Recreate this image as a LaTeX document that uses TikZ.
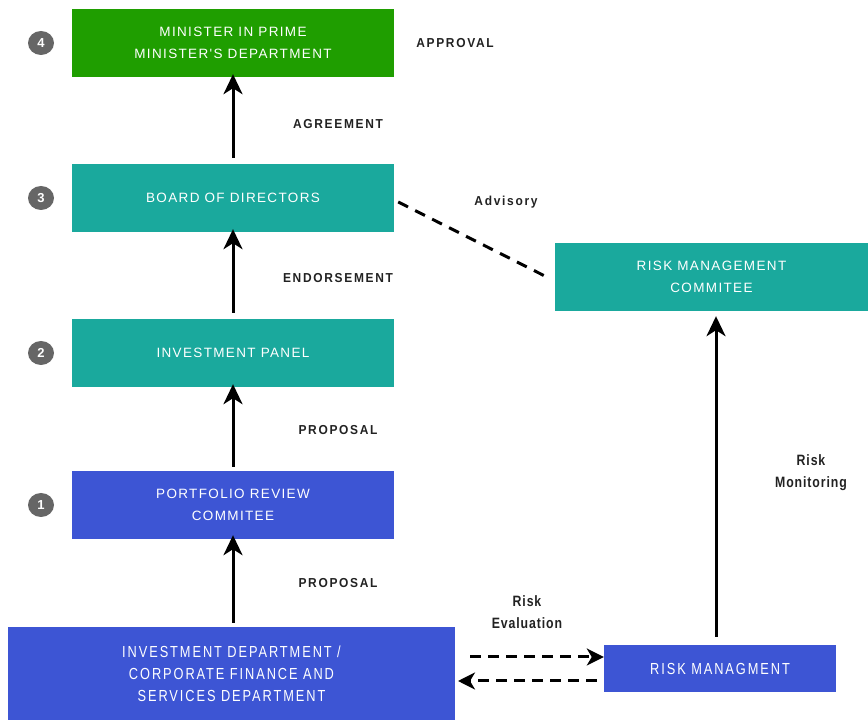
\documentclass[tikz,border=0pt]{standalone}
\usepackage{fontspec}
\setmainfont{Liberation Sans}
\newfontfamily\boxfont[LetterSpace=10]{Liberation Sans}
\newfontfamily\lblfont[LetterSpace=13,FakeStretch=0.92]{Liberation Sans Bold}
\newfontfamily\condfont[FakeStretch=0.8,LetterSpace=12]{Liberation Sans}
\newfontfamily\condbold[FakeStretch=0.82,LetterSpace=6]{Liberation Sans Bold}
\usetikzlibrary{arrows.meta}
\definecolor{cgreen}{HTML}{1F9E00}
\definecolor{cteal}{HTML}{1AA99D}
\definecolor{cblue}{HTML}{3D55D4}
\definecolor{cgray}{HTML}{666666}
\definecolor{ctext}{HTML}{222222}
\tikzset{
  x=1pt,y=1pt,
  boxnode/.style={draw=none,minimum width=322pt,minimum height=68pt,inner sep=0pt,align=center,text=white,font=\boxfont\fontsize{13.5}{22}\selectfont},
  numcirc/.style={ellipse,fill=cgray,minimum width=26pt,minimum height=24pt,inner sep=0pt,text=white,font=\bfseries\fontsize{13}{13}\selectfont},
  lbl/.style={text=ctext,font=\lblfont\fontsize{13}{15}\selectfont,align=center},
  clbl/.style={text=ctext,font=\condbold\fontsize{15}{22}\selectfont,align=center},
  flow/.style={line width=3pt,-{Stealth[length=20pt,width=19pt,inset=6pt]}},
  dflow/.style={line width=3pt,dash pattern=on 11pt off 7pt,-{Stealth[length=17pt,width=17pt,inset=5pt]}},
}
\usetikzlibrary{shapes.geometric}
\begin{document}
\begin{tikzpicture}
\useasboundingbox (0,0) rectangle (868,720);
\fill[white] (0,0) rectangle (868,720);
% boxes
\node[boxnode,fill=cgreen] (b4) at (233,677) {MINISTER IN PRIME\\MINISTER'S DEPARTMENT};
\node[boxnode,fill=cteal] (b3) at (233,522) {BOARD OF DIRECTORS};
\node[boxnode,fill=cteal] (b2) at (233,367) {INVESTMENT PANEL};
\node[boxnode,fill=cblue] (b1) at (233,215) {PORTFOLIO REVIEW\\COMMITEE};
\node[boxnode,fill=cblue,minimum width=447pt,minimum height=93pt,font=\condfont\fontsize{16}{22}\selectfont] (b0) at (231.5,46.5) {INVESTMENT DEPARTMENT /\\CORPORATE FINANCE AND\\SERVICES DEPARTMENT};
\node[boxnode,fill=cblue,minimum width=232pt,minimum height=47pt,font=\condfont\fontsize{16}{22}\selectfont] (rm) at (720,51.5) {RISK MANAGMENT};
\node[boxnode,fill=cteal,minimum width=313pt] (rmc) at (711.5,443) {RISK MANAGEMENT\\COMMITEE};
% numbers
\node[numcirc] (n4) at (41,677) {4};
\node[numcirc] (n3) at (41,522) {3};
\node[numcirc] (n2) at (41,367) {2};
\node[numcirc] (n1) at (41,215) {1};
% labels
\node[lbl] (lapp) at (455,677) {APPROVAL};
\node[lbl] (lagr) at (338,596) {AGREEMENT};
\node[lbl] (ladv) at (506,518) {Advisory};
\node[lbl] (lend) at (338,442) {ENDORSEMENT};
\node[lbl] (lpr2) at (338,290) {PROPOSAL};
\node[lbl] (lpr1) at (338,137) {PROPOSAL};
\node[clbl] (lre) at (527,108) {Risk\\Evaluation};
\node[clbl] (lrm) at (811,247) {Risk\\Monitoring};
% arrows
\draw[flow] ([yshift=6pt]b3.north) -- ([yshift=3pt]b4.south);
\draw[flow] ([yshift=6pt]b2.north) -- ([yshift=3pt]b3.south);
\draw[flow] ([yshift=4pt]b1.north) -- ([yshift=3pt]b2.south);
\draw[flow] ([xshift=1.5pt,yshift=4pt]b0.north) -- ([yshift=4pt]b1.south);
\draw[flow] ([xshift=-4pt,yshift=8pt]rm.north) -- ([xshift=4.5pt,yshift=-5pt]rmc.south);
\draw[line width=3pt,dash pattern=on 11pt off 8pt] ([xshift=4pt,yshift=-4pt]b3.east) -- ([xshift=-10pt,yshift=1pt]rmc.west);
\coordinate (d1s) at (470,63);
\coordinate (d2e) at (458,39);
\draw[dflow] (d1s) -- (d1s -| rm.west);
\draw[dflow] ([xshift=-7pt]rm.west |- d2e) -- (d2e);
\end{tikzpicture}
\end{document}
